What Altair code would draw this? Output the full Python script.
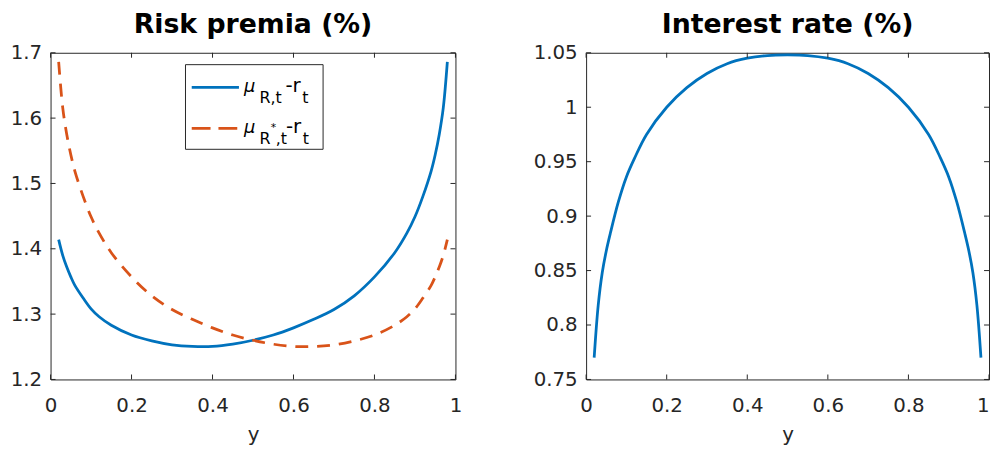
import altair as alt
import pandas as pd

# ---- data ----
y_grid = [0.02, 0.03, 0.04, 0.05, 0.06, 0.08, 0.10, 0.12, 0.15, 0.20, 0.25, 0.30,
          0.35, 0.40, 0.45, 0.50, 0.55, 0.60, 0.65, 0.70, 0.75, 0.80, 0.85, 0.88,
          0.90, 0.92, 0.94, 0.95, 0.96, 0.97, 0.98]
premium_R = [1.414, 1.390, 1.372, 1.357, 1.344, 1.325, 1.308, 1.296, 1.283, 1.268,
             1.259, 1.253, 1.2505, 1.2505, 1.254, 1.260, 1.268, 1.279, 1.292, 1.307,
             1.328, 1.357, 1.394, 1.424, 1.449, 1.481, 1.519, 1.544, 1.575, 1.616, 1.686]
premium_Rstar = [1.686, 1.616, 1.575, 1.544, 1.519, 1.481, 1.449, 1.424, 1.394, 1.357,
                 1.328, 1.307, 1.292, 1.279, 1.268, 1.260, 1.254, 1.2505, 1.2505, 1.253,
                 1.259, 1.268, 1.283, 1.296, 1.308, 1.325, 1.344, 1.357, 1.372, 1.390, 1.414]
interest_rate = [0.770, 0.818, 0.848, 0.868, 0.884, 0.913, 0.936, 0.953, 0.975, 1.000,
                 1.018, 1.031, 1.040, 1.045, 1.0475, 1.048, 1.0475, 1.045, 1.040, 1.031,
                 1.018, 1.000, 0.975, 0.953, 0.936, 0.913, 0.884, 0.868, 0.848, 0.818, 0.770]
x_ticks = [0, 0.2, 0.4, 0.6, 0.8, 1]
rp_ticks = [1.2, 1.3, 1.4, 1.5, 1.6, 1.7]
ir_ticks = [0.75, 0.8, 0.85, 0.9, 0.95, 1.0, 1.05]

# ---- style ----
BLUE = "#0072BD"
ORANGE = "#D95319"
INK = "#262626"
FONT = "DejaVu Sans"
W1, W2, H = 409, 407, 330
TICK = 5
LW = 2.8
INTERP = "catmull-rom"

one = pd.DataFrame({"a": [0]})


def x_axis(right_flush=False):
    kw = dict(values=x_ticks, format="~g", ticks=False, domain=False, grid=False,
              labelFlush=False,
              labelFont=FONT, labelFontSize=20, labelColor=INK, labelPadding=16,
              titleFont=FONT, titleFontSize=20, titleFontWeight="normal",
              titleColor=INK, titlePadding=10)
    if right_flush:
        kw["labelAlign"] = {"condition": {"test": "datum.value == 1", "value": "right"},
                            "value": "center"}
    return alt.Axis(**kw)


def y_axis(vals):
    return alt.Axis(values=vals, format="~g", ticks=False, domain=False, grid=False,
                    labelFlush=False,
                    labelFont=FONT, labelFontSize=20, labelColor=INK, labelPadding=9,
                    title=None)


def make_enc(dom, yvals, right_flush):
    xa = x_axis(right_flush)
    ya = y_axis(yvals)

    def xs(field):
        return alt.X(field, type="quantitative", title="y",
                     scale=alt.Scale(domain=[0, 1], nice=False, zero=False, padding=0),
                     axis=xa)

    def ys(field):
        return alt.Y(field, type="quantitative", title=None,
                     scale=alt.Scale(domain=dom, nice=False, zero=False, padding=0),
                     axis=ya)
    return xs, ys


def inner_ticks(xs, ys, yvals, W):
    dfx = pd.DataFrame({"t": x_ticks})
    dfy = pd.DataFrame({"t": yvals})
    r = dict(color=INK, strokeWidth=1)
    return [
        alt.Chart(dfx).mark_rule(**r).encode(x=xs("t"), y=alt.value(H), y2=alt.value(H - TICK)),
        alt.Chart(dfx).mark_rule(**r).encode(x=xs("t"), y=alt.value(0), y2=alt.value(TICK)),
        alt.Chart(dfy).mark_rule(**r).encode(y=ys("t"), x=alt.value(0), x2=alt.value(TICK)),
        alt.Chart(dfy).mark_rule(**r).encode(y=ys("t"), x=alt.value(W), x2=alt.value(W - TICK)),
    ]


def title(t):
    return alt.TitleParams(t, font=FONT, fontSize=27, fontWeight="bold", color="black",
                           anchor="middle", offset=4)


# ---- left panel ----
xs1, ys1 = make_enc([1.2, 1.7], rp_ticks, False)
df_R = pd.DataFrame({"y": y_grid, "v": premium_R})
df_Rs = pd.DataFrame({"y": y_grid, "v": premium_Rstar})

line_R = alt.Chart(df_R).mark_line(color=BLUE, strokeWidth=LW, interpolate=INTERP).encode(
    x=xs1("y"), y=ys1("v"))
line_Rs = alt.Chart(df_Rs).mark_line(color=ORANGE, strokeWidth=LW, strokeDash=[13, 9],
                                     interpolate=INTERP).encode(x=xs1("y"), y=ys1("v"))

leg = [
    alt.Chart(one).mark_rect(fill="white", stroke=INK, strokeWidth=1).encode(
        x=alt.value(136.3), x2=alt.value(275.3), y=alt.value(12), y2=alt.value(97.5)),
    alt.Chart(one).mark_rule(color=BLUE, strokeWidth=LW).encode(
        x=alt.value(142.6), x2=alt.value(190.3), y=alt.value(35)),
    alt.Chart(one).mark_rule(color=ORANGE, strokeWidth=LW, strokeDash=[19, 8]).encode(
        x=alt.value(142.6), x2=alt.value(190.3), y=alt.value(76.3)),
]
pieces = [
    ("μ", 195.3, 39.7, 18, "italic"),
    ("R,t", 211, 50.7, 16, "normal"),
    ("-r", 237.3, 39.7, 20, "normal"),
    ("t", 254.3, 50.7, 16, "normal"),
    ("μ", 195.3, 80.7, 18, "italic"),
    ("R", 211, 92.3, 16, "normal"),
    ("*", 222.5, 79, 11, "normal"),
    (",t", 227.5, 92.3, 16, "normal"),
    ("-r", 237.8, 80.7, 20, "normal"),
    ("t", 254.8, 92.3, 16, "normal"),
]
for txt, px, py, fs, st in pieces:
    leg.append(alt.Chart(one).mark_text(text=txt, font=FONT, fontSize=fs, fontStyle=st,
                                        color="black", align="left",
                                        baseline="alphabetic").encode(
        x=alt.value(px), y=alt.value(py)))

left = alt.layer(line_R, line_Rs, *inner_ticks(xs1, ys1, rp_ticks, W1), *leg).properties(
    width=W1, height=H, title=title("Risk premia (%)"))

# ---- right panel ----
xs2, ys2 = make_enc([0.75, 1.05], ir_ticks, True)
df_ir = pd.DataFrame({"y": y_grid, "v": interest_rate})
line_ir = alt.Chart(df_ir).mark_line(color=BLUE, strokeWidth=LW, interpolate=INTERP).encode(
    x=xs2("y"), y=ys2("v"))

right = alt.layer(line_ir, *inner_ticks(xs2, ys2, ir_ticks, W2)).properties(
    width=W2, height=H, title=title("Interest rate (%)"))

chart = alt.hconcat(left, right, spacing=70).properties(
    padding={"left": 1, "top": 0, "right": 0, "bottom": 0},
    background="white",
).configure_view(stroke=INK, strokeWidth=1)

chart.save("out.html", embed_options={"renderer": "svg", "actions": False})
